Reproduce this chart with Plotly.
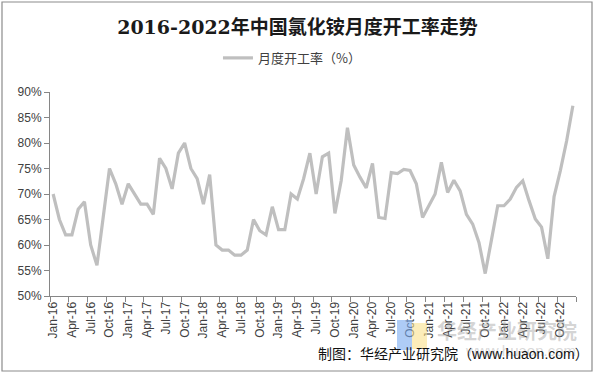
import plotly.graph_objects as go

years = ["16", "17", "18", "19", "20", "21", "22"]
month_names = ["Jan", "Feb", "Mar", "Apr", "May", "Jun", "Jul", "Aug", "Sep", "Oct", "Nov", "Dec"]
categories = [f"{m}-{y}" for y in years for m in month_names]

rate_2016 = [70, 65, 62, 62, 67, 68.5, 60, 56, 65.5, 75, 72, 68]
rate_2017 = [72, 70, 68, 68, 66, 77, 75, 71, 78, 80, 75, 73]
rate_2018 = [68, 73.8, 60, 59, 59, 58, 58, 59, 65, 62.8, 62, 67.5]
rate_2019 = [63, 63, 70, 69, 73, 78, 70, 77.3, 78, 66.2, 72.6, 83]
rate_2020 = [75.7, 73.3, 71.2, 76, 65.4, 65.2, 74.2, 74, 74.8, 74.6, 72, 65.4]
rate_2021 = [67.7, 70, 76.2, 70.3, 72.7, 70.6, 66, 64.1, 60.5, 54.4, 61, 67.7]
rate_2022 = [67.7, 69, 71.3, 72.6, 68.7, 65.1, 63.5, 57.3, 69.5, 74.6, 80.4, 87.3]
rates = rate_2016 + rate_2017 + rate_2018 + rate_2019 + rate_2020 + rate_2021 + rate_2022

x_idx = list(range(len(categories)))
tick_idx = x_idx[::3]
tick_labels = categories[::3]

FONT = "Liberation Sans, Arial, Noto Sans CJK SC"
TXT = "#404040"
AX = "#868686"

fig = go.Figure()
fig.add_trace(go.Scatter(
    x=x_idx, y=rates, mode="lines", name="月度开工率（%）",
    line=dict(color="#BFBFBF", width=3.2),
))

fig.update_layout(
    width=595, height=375,
    margin=dict(l=50, r=19, t=92, b=79),
    paper_bgcolor="white", plot_bgcolor="white",
    font=dict(family=FONT, size=12, color=TXT),
    title=dict(
        text="<b>2016-2022年中国氯化铵月度开工率走势</b>",
        x=0.5, xref="container", xanchor="center",
        y=1 - 27 / 375, yref="container", yanchor="middle",
        font=dict(family="DejaVu Serif, Noto Sans CJK SC", size=19, color="#1a1a1a"),
    ),
    showlegend=True,
    legend=dict(
        orientation="h", x=0.46, xanchor="center", y=1.167, yanchor="middle",
        font=dict(family="Noto Sans CJK SC", size=13, color=TXT),
        bgcolor="rgba(0,0,0,0)",
    ),
    xaxis=dict(
        range=[-0.5, 83.5], showgrid=False, zeroline=False,
        showline=True, linecolor=AX, linewidth=1,
        tickmode="array", tickvals=tick_idx, ticktext=tick_labels,
        ticks="", tickangle=-90,
        tickfont=dict(family=FONT, size=12, color=TXT),
        minor=dict(tick0=-0.5, dtick=3, ticks="outside", ticklen=5, tickcolor=AX, showgrid=False),
    ),
    yaxis=dict(
        range=[50, 90], dtick=5, tick0=50, showgrid=False, zeroline=False,
        showline=True, linecolor=AX, linewidth=1,
        ticks="outside", ticklen=5, tickcolor=AX, ticksuffix="%",
        tickfont=dict(family=FONT, size=12, color=TXT),
    ),
)

# chart border
fig.add_shape(type="rect", xref="paper", yref="paper",
              x0=-48 / 526, x1=542 / 526, y0=-75 / 204, y1=294 / 204,
              line=dict(color="#8c8c8c", width=1.2), fillcolor="rgba(0,0,0,0)")

# watermark logo
fig.add_shape(type="rect", xref="paper", yref="paper",
              x0=347 / 526, x1=362 / 526, y0=-54 / 204, y1=-24 / 204,
              line=dict(width=0), fillcolor="rgba(120,170,240,0.6)", layer="above")
fig.add_shape(type="rect", xref="paper", yref="paper",
              x0=362 / 526, x1=377 / 526, y0=-53 / 204, y1=-27 / 204,
              line=dict(width=0), fillcolor="rgba(250,225,140,0.6)", layer="above")
fig.add_annotation(text="<b>华经产业研究院</b>", xref="paper", yref="paper",
                   x=385 / 526, y=-34 / 204, xanchor="left", yanchor="middle", showarrow=False,
                   font=dict(family="Noto Sans CJK SC", size=20, color="rgba(160,160,160,0.45)"))
fig.add_annotation(text="www.huaon.com", xref="paper", yref="paper",
                   x=470 / 526, y=-54 / 204, xanchor="center", yanchor="middle", showarrow=False,
                   font=dict(family=FONT, size=15, color="rgba(170,170,170,0.45)"))

# source note
fig.add_annotation(text="制图：华经产业研究院（www.huaon.com）", xref="paper", yref="paper",
                   x=541 / 526, y=-58 / 204, xanchor="right", yanchor="middle", showarrow=False,
                   font=dict(family=FONT, size=14, color="#111111"))

fig.write_html("out.html", config={"displayModeBar": False},
               post_script="document.body.style.margin='0';document.body.style.overflow='hidden';")
